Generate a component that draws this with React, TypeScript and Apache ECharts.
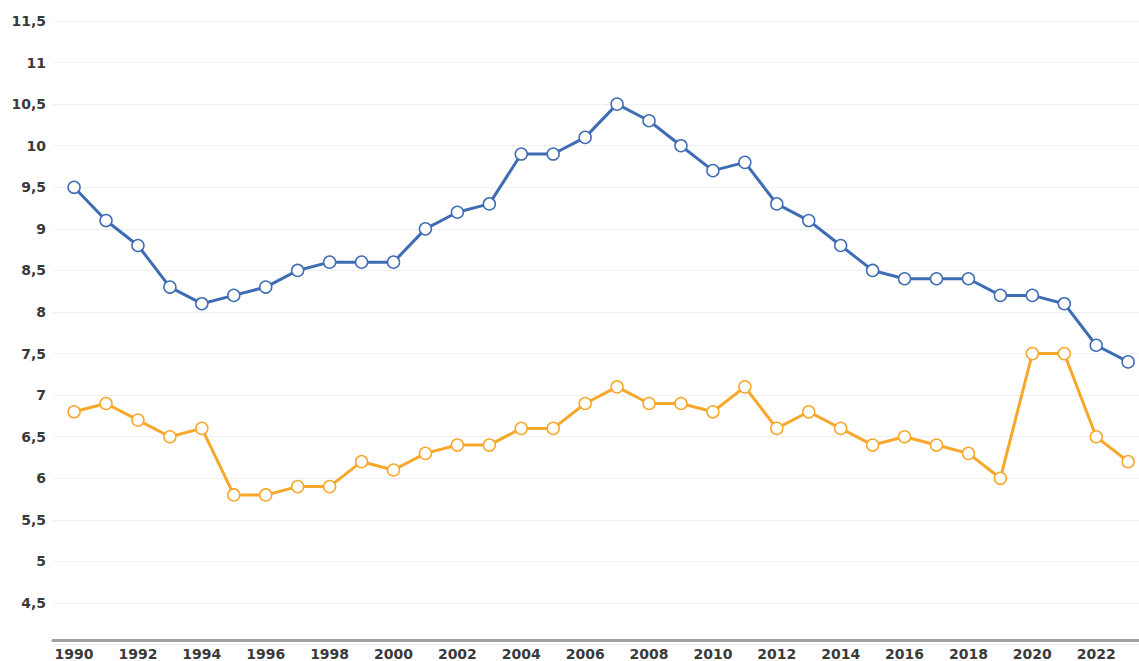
import React, { useEffect, useRef } from "react";
import * as echarts from "echarts";

const years: number[] = [
  1990, 1991, 1992, 1993, 1994, 1995, 1996, 1997, 1998, 1999, 2000, 2001,
  2002, 2003, 2004, 2005, 2006, 2007, 2008, 2009, 2010, 2011, 2012, 2013,
  2014, 2015, 2016, 2017, 2018, 2019, 2020, 2021, 2022, 2023,
];

const blueValues: number[] = [
  9.5, 9.1, 8.8, 8.3, 8.1, 8.2, 8.3, 8.5, 8.6, 8.6, 8.6, 9.0, 9.2, 9.3, 9.9,
  9.9, 10.1, 10.5, 10.3, 10.0, 9.7, 9.8, 9.3, 9.1, 8.8, 8.5, 8.4, 8.4, 8.4,
  8.2, 8.2, 8.1, 7.6, 7.4,
];

const orangeValues: number[] = [
  6.8, 6.9, 6.7, 6.5, 6.6, 5.8, 5.8, 5.9, 5.9, 6.2, 6.1, 6.3, 6.4, 6.4, 6.6,
  6.6, 6.9, 7.1, 6.9, 6.9, 6.8, 7.1, 6.6, 6.8, 6.6, 6.4, 6.5, 6.4, 6.3, 6.0,
  7.5, 7.5, 6.5, 6.2,
];

const xTickLabels: number[] = [
  1990, 1992, 1994, 1996, 1998, 2000, 2002, 2004, 2006, 2008, 2010, 2012,
  2014, 2016, 2018, 2020, 2022,
];

const BLUE = "#3f6db3";
const ORANGE = "#f7a72a";
const FONT = "DejaVu Sans";

export default function App() {
  const ref = useRef<HTMLDivElement>(null);

  useEffect(() => {
    if (!ref.current) return;
    const chart = echarts.init(ref.current, undefined, { renderer: "svg" });

    const mkSeries = (name: string, values: number[], color: string) => ({
      name,
      type: "line",
      data: years.map((y, i) => [y, values[i]]),
      symbol: "circle",
      symbolSize: 12,
      lineStyle: { color, width: 3 },
      itemStyle: { color: "#ffffff", borderColor: color, borderWidth: 1.5 },
      emphasis: { disabled: true },
      z: 3,
    });

    chart.setOption({
      animation: false,
      backgroundColor: "#ffffff",
      grid: { left: 53, right: 0, top: 21, bottom: 16.4, containLabel: false },
      xAxis: {
        type: "value",
        min: 1989.34,
        max: 2023.34,
        offset: -4,
        axisLine: { show: true, lineStyle: { color: "#a0a0a0", width: 3 } },
        axisTick: { show: false },
        splitLine: { show: false },
        axisLabel: {
          customValues: xTickLabels,
          margin: 6,
          color: "#3a3a3a",
          fontFamily: FONT,
          fontWeight: "bold",
          fontSize: 14,
          formatter: (v: number) => String(v),
        },
      },
      yAxis: {
        type: "value",
        min: 4,
        max: 11.5,
        interval: 0.5,
        axisLine: { show: false },
        axisTick: { show: false },
        splitLine: { show: true, lineStyle: { color: "#efefef", width: 1 } },
        axisLabel: {
          margin: 7,
          color: "#3a3a3a",
          fontFamily: FONT,
          fontWeight: "bold",
          fontSize: 14,
          formatter: (v: number) =>
            v === 4 ? "" : String(v).replace(".", ","),
        },
      },
      series: [
        mkSeries("Blue", blueValues, BLUE),
        mkSeries("Orange", orangeValues, ORANGE),
      ],
    });

    return () => chart.dispose();
  }, []);

  return (
    <div
      ref={ref}
      style={{ position: "fixed", left: 0, top: 0, width: 1139, height: 661 }}
    />
  );
}
